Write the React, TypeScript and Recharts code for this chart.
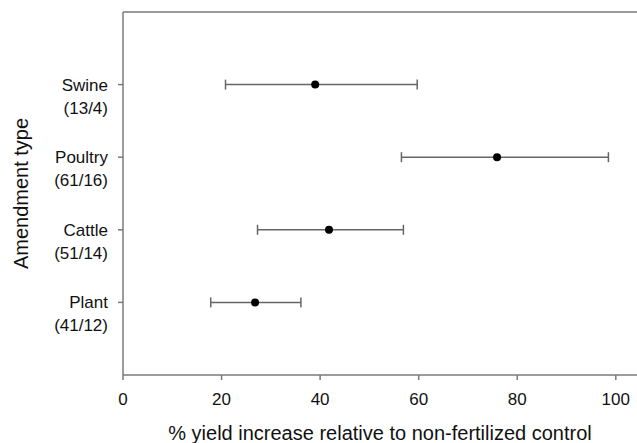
import { ErrorBar, ReferenceLine, Scatter, ScatterChart, XAxis, YAxis } from "recharts";

const categories = ["Swine", "Poultry", "Cattle", "Plant"];
const counts = ["(13/4)", "(61/16)", "(51/14)", "(41/12)"];
const means = [39.0, 75.9, 41.8, 26.8];
const lower = [20.8, 56.5, 27.3, 17.8];
const upper = [59.7, 98.5, 56.9, 36.1];
const xTicks = [0, 20, 40, 60, 80, 100];

const data = categories.map((name, i) => ({
  name,
  pos: categories.length - i,
  mean: means[i],
  err: [means[i] - lower[i], upper[i] - means[i]],
}));

const font = "'Liberation Sans', Arial, sans-serif";
const axisColor = "#7a7a7a";

const CategoryTick = (props: any) => {
  const { x, y, payload } = props;
  const idx = categories.length - payload.value;
  if (idx < 0 || idx >= categories.length) return null;
  return (
    <g>
      <text x={x - 8} y={y + 6} textAnchor="end" fontSize={17} fill="#111" fontFamily={font}>
        {categories[idx]}
      </text>
      <text x={x - 8} y={y + 29} textAnchor="end" fontSize={17} fill="#111" fontFamily={font}>
        {counts[idx]}
      </text>
    </g>
  );
};

const Dot = (props: any) => <circle cx={props.cx} cy={props.cy} r={4} fill="#000" />;

const App = () => {
  return (
    <div style={{ position: "absolute", left: 0, top: 0, background: "#fff" }}>
      <ScatterChart width={637} height={443} margin={{ top: 12, right: 0, left: 0, bottom: 0 }}>
        <XAxis
          type="number"
          dataKey="mean"
          domain={[0, 104.3]}
          allowDataOverflow
          ticks={xTicks}
          height={68}
          stroke={axisColor}
          strokeWidth={1.5}
          tickSize={5}
          tickMargin={13}
          tick={{ fill: "#111", fontSize: 17, fontFamily: font }}
          label={({ viewBox }: any) => (
            <text
              x={viewBox.x + viewBox.width / 2}
              y={viewBox.y + 65}
              textAnchor="middle"
              fontSize={20}
              fill="#111"
              fontFamily={font}
            >
              % yield increase relative to non-fertilized control
            </text>
          )}
        />
        <YAxis
          type="number"
          dataKey="pos"
          domain={[0, 5]}
          ticks={[1, 2, 3, 4]}
          width={123}
          stroke={axisColor}
          strokeWidth={1.5}
          tickSize={5}
          tick={<CategoryTick />}
          label={({ viewBox }: any) => {
            const cx = 21;
            const cy = viewBox.y + viewBox.height / 2;
            return (
              <text
                x={cx}
                y={cy}
                transform={`rotate(-90 ${cx} ${cy})`}
                textAnchor="middle"
                dominantBaseline="central"
                fontSize={20}
                fill="#111"
                fontFamily={font}
              >
                Amendment type
              </text>
            );
          }}
        />
        <ReferenceLine y={5} stroke={axisColor} strokeWidth={1.5} />
        <Scatter data={data} shape={<Dot />} isAnimationActive={false}>
          <ErrorBar dataKey="err" direction="x" width={5} stroke="#666" strokeWidth={1.5} isAnimationActive={false} />
        </Scatter>
      </ScatterChart>
    </div>
  );
};

export default App;
